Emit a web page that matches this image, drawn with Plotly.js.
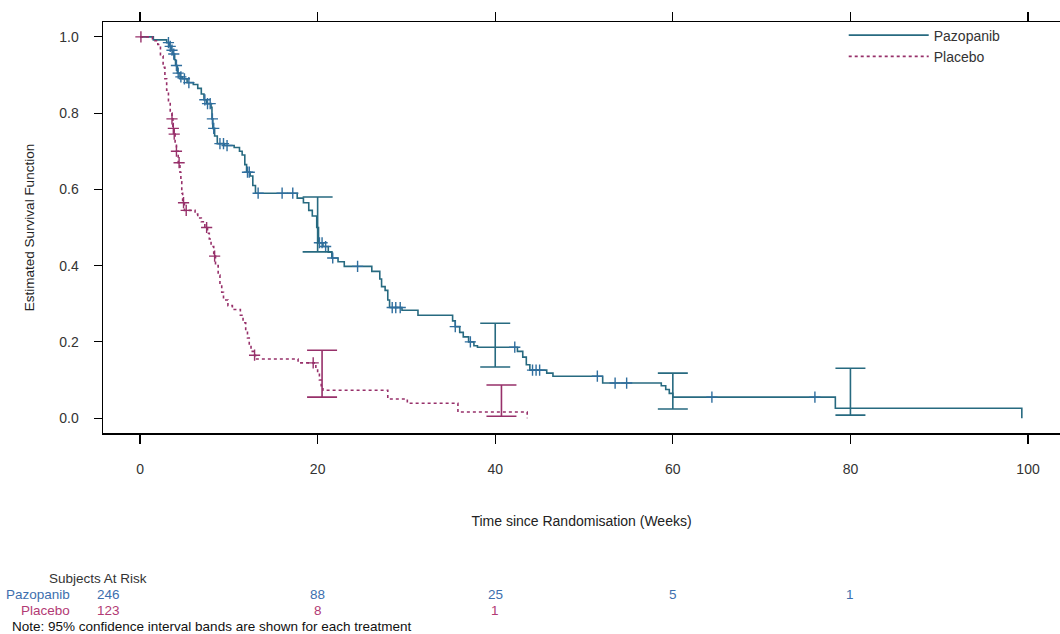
<!DOCTYPE html>
<html>
<head>
<meta charset="utf-8">
<script src="https://cdn.plot.ly/plotly-3.0.1.min.js"></script>
<style>html,body{margin:0;padding:0;background:#fff;}#chart{width:1060px;height:634px;}</style>
</head>
<body>
<div id="chart"></div>
<script>
// ---- Kaplan-Meier step data (weeks, survival) ----
const pazTime = [0, 1.5, 3.0, 3.3, 3.5, 3.7, 3.9, 4.0, 4.2, 4.5, 4.8, 5.3, 6.0, 6.5, 6.9, 7.2, 7.5, 8.0, 8.1, 8.2, 8.4, 8.7, 9.5, 10.6, 11.2, 11.5, 11.8, 12.0, 12.4, 12.7, 13.0, 17.7, 18.4, 19.0, 19.4, 19.9, 20.1, 20.6, 21.2, 21.6, 22.3, 23.0, 26.1, 27.0, 27.2, 27.6, 27.9, 28.1, 29.5, 31.3, 35.2, 35.5, 36.0, 36.4, 37.0, 37.6, 38.0, 42.5, 43.1, 43.5, 43.9, 45.8, 46.5, 52.1, 58.7, 59.2, 59.6, 60.0, 78.3, 99.3];
const pazSurv = [1.0, 0.992, 0.985, 0.975, 0.965, 0.955, 0.94, 0.925, 0.905, 0.895, 0.89, 0.88, 0.875, 0.865, 0.85, 0.835, 0.825, 0.815, 0.785, 0.76, 0.74, 0.72, 0.715, 0.71, 0.70, 0.69, 0.665, 0.645, 0.635, 0.61, 0.59, 0.577, 0.565, 0.545, 0.53, 0.50, 0.46, 0.45, 0.435, 0.42, 0.41, 0.398, 0.385, 0.365, 0.345, 0.335, 0.31, 0.29, 0.283, 0.27, 0.255, 0.24, 0.225, 0.213, 0.20, 0.19, 0.186, 0.175, 0.16, 0.14, 0.126, 0.118, 0.11, 0.092, 0.085, 0.075, 0.065, 0.055, 0.026, 0.0];
const pazCensor = [3.2, 3.4, 3.6, 3.8, 4.1, 4.3, 4.6, 5.0, 5.5, 7.3, 7.6, 7.9, 8.15, 8.3, 9.0, 9.4, 9.8, 12.1, 12.3, 13.3, 16.0, 17.2, 20.2, 20.5, 20.9, 21.7, 24.5, 28.4, 28.8, 29.3, 35.5, 37.2, 42.2, 44.2, 44.6, 45.0, 51.5, 53.5, 54.8, 64.4, 76.0];

const plaTime = [0, 1.4, 2.0, 2.3, 2.6, 2.8, 3.0, 3.2, 3.4, 3.6, 3.7, 3.8, 3.95, 4.1, 4.3, 4.5, 4.6, 4.7, 4.8, 5.0, 6.2, 6.5, 6.9, 7.3, 7.6, 7.8, 8.0, 8.3, 8.5, 8.8, 9.0, 9.2, 9.4, 9.9, 10.4, 11.3, 11.6, 11.9, 12.1, 12.3, 12.5, 12.8, 13.0, 17.8, 19.8, 20.0, 20.2, 20.4, 20.6, 27.9, 30.1, 35.8, 43.6];
const plaSurv = [1.0, 0.99, 0.98, 0.95, 0.92, 0.89, 0.86, 0.83, 0.80, 0.785, 0.76, 0.745, 0.72, 0.70, 0.67, 0.645, 0.62, 0.59, 0.565, 0.545, 0.535, 0.525, 0.515, 0.50, 0.485, 0.47, 0.45, 0.425, 0.40, 0.375, 0.35, 0.33, 0.31, 0.295, 0.285, 0.27, 0.25, 0.23, 0.21, 0.19, 0.175, 0.165, 0.155, 0.145, 0.13, 0.115, 0.10, 0.085, 0.073, 0.05, 0.039, 0.016, 0.0];
const plaCensor = [0.1, 3.6, 3.75, 3.85, 4.1, 4.4, 4.9, 5.2, 7.5, 8.4, 12.9, 19.5];

// ---- 95% confidence intervals ----
const pazCiTime = [20, 40, 60, 80];
const pazCiLow = [0.436, 0.134, 0.024, 0.008];
const pazCiHigh = [0.580, 0.249, 0.118, 0.131];
const plaCiTime = [20.5, 40.7];
const plaCiLow = [0.055, 0.005];
const plaCiHigh = [0.178, 0.087];

// ---- Subjects at risk ----
const riskTimes = [0, 20, 40, 60, 80];
const pazRisk = [246, 88, 25, 5, 1];
const plaRisk = [123, 8, 1];

const xTicks = [0, 20, 40, 60, 80, 100];
const yTicks = [0.0, 0.2, 0.4, 0.6, 0.8, 1.0];

const PAZ = '#276a80';
const PAZ_MARK = '#2f6e9e';
const PLA = '#97306a';
const PAZ_TXT = '#3d6fae';
const PLA_TXT = '#b23a74';
const FONT = 'Liberation Sans, Arial, Helvetica, sans-serif';

function stepAt(times, surv, t) {
  let v = surv[0];
  for (let i = 0; i < times.length; i++) { if (times[i] <= t) v = surv[i]; else break; }
  return v;
}

const traces = [
  {x: pazTime, y: pazSurv, type: 'scatter', mode: 'lines', name: 'Pazopanib',
   line: {shape: 'hv', color: PAZ, width: 1.6}},
  {x: plaTime, y: plaSurv, type: 'scatter', mode: 'lines', name: 'Placebo',
   line: {shape: 'hv', color: PLA, width: 1.6, dash: 'dot'}},
  {x: pazCensor, y: pazCensor.map(t => stepAt(pazTime, pazSurv, t)), type: 'scatter', mode: 'markers',
   showlegend: false, hoverinfo: 'skip',
   marker: {symbol: 'cross-thin', size: 8, line: {color: PAZ_MARK, width: 1.4}}},
  {x: plaCensor, y: plaCensor.map(t => stepAt(plaTime, plaSurv, t)), type: 'scatter', mode: 'markers',
   showlegend: false, hoverinfo: 'skip',
   marker: {symbol: 'cross-thin', size: 8, line: {color: PLA, width: 1.4}}},
  {x: pazCiTime, y: pazCiTime.map((t, i) => (pazCiLow[i] + pazCiHigh[i]) / 2), type: 'scatter', mode: 'markers',
   showlegend: false, hoverinfo: 'skip', marker: {size: 1, color: 'rgba(0,0,0,0)'},
   error_y: {type: 'data', symmetric: true, array: pazCiTime.map((t, i) => (pazCiHigh[i] - pazCiLow[i]) / 2),
     color: PAZ, thickness: 1.6, width: 15}},
  {x: plaCiTime, y: plaCiTime.map((t, i) => (plaCiLow[i] + plaCiHigh[i]) / 2), type: 'scatter', mode: 'markers',
   showlegend: false, hoverinfo: 'skip', marker: {size: 1, color: 'rgba(0,0,0,0)'},
   error_y: {type: 'data', symmetric: true, array: plaCiTime.map((t, i) => (plaCiHigh[i] - plaCiLow[i]) / 2),
     color: PLA, thickness: 1.6, width: 15}}
];

const ROW_SAR = -0.355, ROW_PAZ = -0.394, ROW_PLA = -0.433, ROW_NOTE = -0.472;
const annotations = [];
annotations.push({xref: 'paper', yref: 'paper', x: -0.005, y: ROW_SAR, xanchor: 'center', yanchor: 'middle',
  text: 'Subjects At Risk', showarrow: false, font: {family: FONT, size: 13.5, color: '#333'}});
annotations.push({xref: 'paper', yref: 'paper', x: -0.032, y: ROW_PAZ, xanchor: 'right', yanchor: 'middle',
  text: 'Pazopanib', showarrow: false, font: {family: FONT, size: 13.5, color: PAZ_TXT}});
annotations.push({xref: 'paper', yref: 'paper', x: -0.032, y: ROW_PLA, xanchor: 'right', yanchor: 'middle',
  text: 'Placebo', showarrow: false, font: {family: FONT, size: 13.5, color: PLA_TXT}});
annotations.push({xref: 'paper', yref: 'paper', x: -0.097, y: ROW_NOTE, xanchor: 'left', yanchor: 'middle',
  text: 'Note: 95% confidence interval bands are shown for each treatment', showarrow: false,
  font: {family: FONT, size: 13.5, color: '#111'}});
riskTimes.forEach((t, i) => {
  annotations.push({xref: 'x', yref: 'paper', x: t, y: ROW_PAZ, xanchor: 'center', yanchor: 'middle',
    xshift: i === 0 ? -32 : 0, text: String(pazRisk[i]), showarrow: false,
    font: {family: FONT, size: 13.5, color: PAZ_TXT}});
  if (i < plaRisk.length) {
    annotations.push({xref: 'x', yref: 'paper', x: t, y: ROW_PLA, xanchor: 'center', yanchor: 'middle',
      xshift: i === 0 ? -32 : 0, text: String(plaRisk[i]), showarrow: false,
      font: {family: FONT, size: 13.5, color: PLA_TXT}});
  }
});

const layout = {
  width: 1060, height: 634,
  margin: {l: 103, r: 0, t: 22, b: 201, pad: 0},
  paper_bgcolor: '#fff', plot_bgcolor: '#fff',
  font: {family: FONT, size: 13, color: '#333'},
  showlegend: true,
  legend: {x: 0.774, xanchor: 'left', y: 1.006, yanchor: 'top', bgcolor: 'rgba(0,0,0,0)',
    font: {family: FONT, size: 14, color: '#333'}, itemwidth: 80, tracegroupgap: 0},
  xaxis: {range: [-4.17, 103.6], tickvals: xTicks, ticktext: xTicks.map(String),
    ticks: 'outside', ticklen: 9, tickwidth: 1.2, tickcolor: '#000',
    showline: true, linecolor: '#000', linewidth: 1.5, mirror: 'ticks',
    showgrid: false, zeroline: false, ticklabelstandoff: 14,
    tickfont: {family: FONT, size: 14, color: '#333'},
    title: {text: 'Time since Randomisation (Weeks)', standoff: 40, font: {family: FONT, size: 14, color: '#222'}}},
  yaxis: {range: [-0.039, 1.039], tickvals: yTicks, ticktext: yTicks.map(v => v.toFixed(1)),
    ticks: 'outside', ticklen: 8, tickwidth: 1.2, tickcolor: '#000',
    showline: true, linecolor: '#000', linewidth: 1.5, mirror: false,
    showgrid: false, zeroline: false, ticklabelstandoff: 12,
    tickfont: {family: FONT, size: 14, color: '#333'},
    title: {text: 'Estimated Survival Function', standoff: 21, font: {family: FONT, size: 13.5, color: '#222'}}},
  annotations: annotations
};

Plotly.newPlot('chart', traces, layout, {displayModeBar: false, staticPlot: true});
</script>
</body>
</html>
